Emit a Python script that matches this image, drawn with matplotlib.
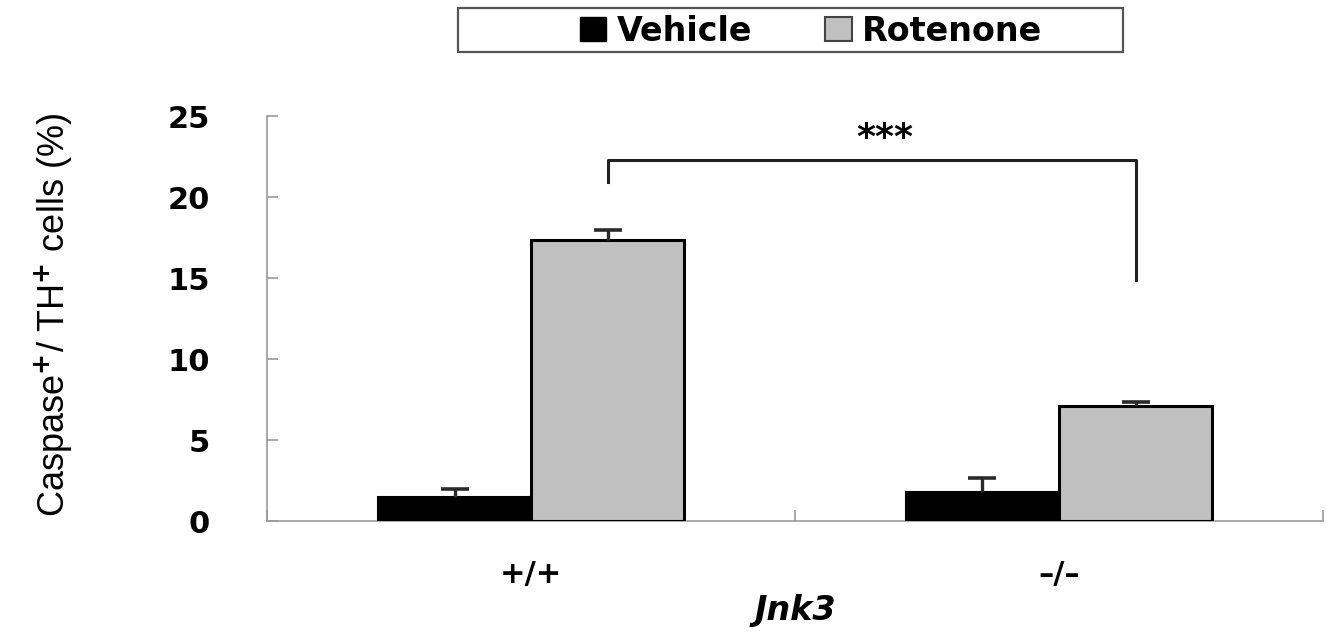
import matplotlib
matplotlib.use("Agg")
import matplotlib.pyplot as plt
import numpy as np
from matplotlib.patches import Patch, Rectangle

categories = ["+/+", "\u2013/\u2013"]
series_names = ["Vehicle", "Rotenone"]
vehicle = [1.5, 1.8]
vehicle_err = [0.5, 0.85]
rotenone = [17.35, 7.1]
rotenone_err = [0.6, 0.25]
yticks = [0, 5, 10, 15, 20, 25]
sig_label = "***"
bracket_top = 22.3
bracket_left_bottom = 20.9
bracket_right_bottom = 14.9

fig = plt.figure(figsize=(13.36, 6.35), dpi=100)
ax = fig.add_axes([0.1999, 0.1795, 0.7904, 0.6378])

x = np.arange(len(categories))
w = 0.29
off = 0.145
axis_gray = "#9a9a9a"
err_color = "#2a2a2a"

ax.bar(x - off, vehicle, w, color="black", edgecolor="black", linewidth=1.5, zorder=3)
ax.bar(x + off, rotenone, w, color="#c0c0c0", edgecolor="black", linewidth=2.2, zorder=3)

for xs, vals, errs in [(x - off, vehicle, vehicle_err), (x + off, rotenone, rotenone_err)]:
    tops = np.array(vals) + np.array(errs)
    ax.vlines(xs, vals, tops, color=err_color, lw=2.4, zorder=4)
    ax.plot(xs, tops, ls="none", marker="_", markersize=20, markeredgewidth=2.6,
            color=err_color, zorder=4)

# significance bracket
xl, xr = x[0] + off, x[1] + off
ax.plot([xl, xl, xr, xr], [bracket_left_bottom, bracket_top, bracket_top, bracket_right_bottom],
        color="#222222", lw=2.2, solid_joinstyle="round", zorder=4)
ax.text((x[0] + x[1]) / 2 + 0.17, bracket_top + 0.3, sig_label, ha="center", va="bottom",
        fontsize=26, fontweight="bold")

ax.set_xlim(-0.5, 1.5)
ax.set_ylim(0, 25)
ax.set_yticks(yticks)
ax.set_yticklabels([str(t) for t in yticks], fontsize=22, fontweight="heavy",
                   family="DejaVu Sans")
ax.set_xticks([-0.5, 0.5, 1.5])
ax.set_xticklabels([])
ax.tick_params(axis="both", direction="in", length=8, color=axis_gray, width=1.2)
ax.tick_params(axis="y", pad=41)
for c, lab in zip(x, categories):
    ax.text(c, -3.3, lab, ha="center", va="center", fontsize=22, fontweight="bold")
ax.text(0.5, -5.55, "Jnk3", ha="center", va="center", fontsize=24, fontweight="bold",
        fontstyle="italic")

for s in ["top", "right"]:
    ax.spines[s].set_visible(False)
for s in ["left", "bottom"]:
    ax.spines[s].set_color(axis_gray)
    ax.spines[s].set_linewidth(1.2)

ax.set_ylabel("Caspase$^{\\mathbf{+}}$/ TH$^{\\mathbf{+}}$ cells (%)",
              fontsize=26, family=["Liberation Sans", "DejaVu Sans"])
ax.yaxis.set_label_coords(-0.182, 0.51)

handles = [Patch(facecolor="black", edgecolor="black"),
           Patch(facecolor="#c0c0c0", edgecolor="#444444", linewidth=1.5)]
leg = fig.legend(handles, series_names, loc="center",
                 bbox_to_anchor=(0.607, 0.951),
                 ncol=2, frameon=False,
                 prop={"weight": "heavy", "size": 24}, handlelength=0.8, handleheight=0.75,
                 handletextpad=0.3, columnspacing=2.2, borderpad=0.0, borderaxespad=0)
# legend frame box
fig.patches.append(Rectangle((458 / 1336, 1 - 52 / 635), (1123 - 458) / 1336, 44 / 635,
                             transform=fig.transFigure, fill=False,
                             edgecolor="#555555", linewidth=1.6))

fig.savefig("out.png", dpi=100)
